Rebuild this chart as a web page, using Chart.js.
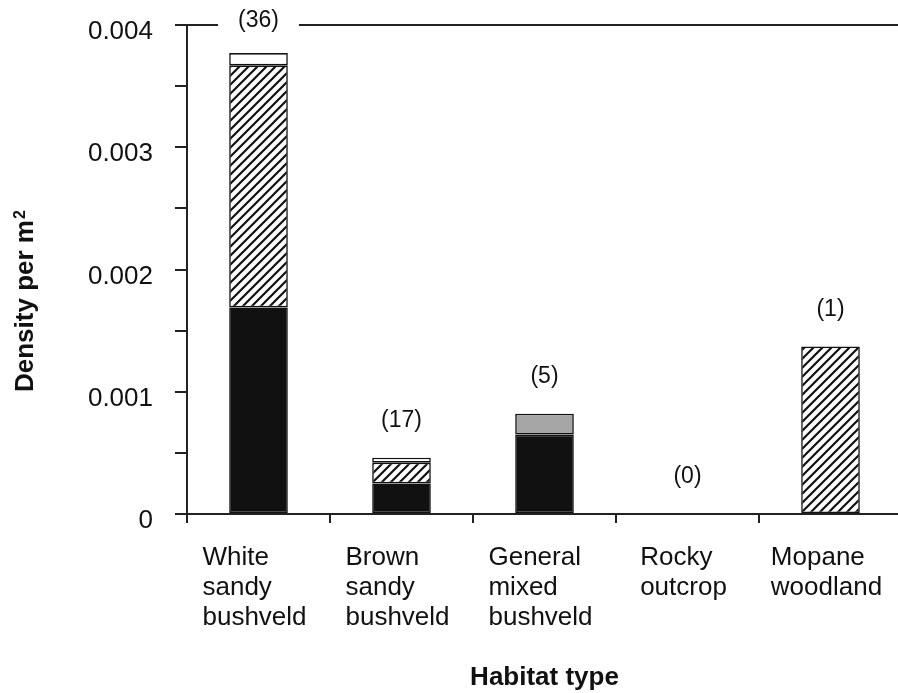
<!DOCTYPE html>
<html>
<head>
<meta charset="utf-8">
<script src="https://cdn.jsdelivr.net/npm/chart.js@4.4.1/dist/chart.umd.min.js"></script>
<style>
  html, body { margin: 0; padding: 0; background: #fff; overflow: hidden; }
  canvas { display: block; }
</style>
</head>
<body>
<canvas id="chart" width="902" height="693"></canvas>
<script>
// habitat categories (one line per array entry, as in the figure)
const habitats = [
  ['White', 'sandy', 'bushveld'],
  ['Brown', 'sandy', 'bushveld'],
  ['General', 'mixed', 'bushveld'],
  ['Rocky', 'outcrop'],
  ['Mopane', 'woodland']
];
const sampleCounts = [36, 17, 5, 0, 1];

// stacked density segments, bottom to top
const solidValues   = [0.00169, 0.00025, 0.00065, 0, 0];
const hatchedValues = [0.00198, 0.00017, 0,       0, 0.00137];
const greyValues    = [0,       0,       0.00017, 0, 0];
const openValues    = [0.00010, 0.00004, 0,       0, 0];

const yTicks = [0, 0.001, 0.002, 0.003, 0.004];
const yTickLabels = ['0', '0.001', '0.002', '0.003', '0.004'];

const FONT = '"Liberation Sans", Arial, sans-serif';
Chart.defaults.font.family = FONT;
Chart.defaults.color = '#111';

const canvas = document.getElementById('chart');
const ctx = canvas.getContext('2d');

function hatchPattern(){
  const c = document.createElement('canvas');
  c.width = 9; c.height = 9;
  const g = c.getContext('2d');
  g.fillStyle = '#fff';
  g.fillRect(0, 0, 9, 9);
  g.strokeStyle = '#111';
  g.lineWidth = 2.2;
  g.beginPath();
  g.moveTo(-1, 10); g.lineTo(10, -1);
  g.moveTo(-1, 1);  g.lineTo(1, -1);
  g.moveTo(8, 10);  g.lineTo(10, 8);
  g.stroke();
  return ctx.createPattern(c, 'repeat');
}

// frame line, sample counts, category labels, y title
const extras = {
  id: 'extras',
  afterDraw(chart){
    const { ctx, chartArea: a, scales: { x, y } } = chart;
    ctx.save();

    ctx.strokeStyle = '#222';
    ctx.lineWidth = 2;
    ctx.beginPath();
    ctx.moveTo(a.left, a.top);
    ctx.lineTo(a.right, a.top);
    ctx.stroke();

    ctx.font = '23px ' + FONT;
    ctx.textAlign = 'center';
    ctx.textBaseline = 'middle';
    sampleCounts.forEach((n, i) => {
      const total = solidValues[i] + hatchedValues[i] + greyValues[i] + openValues[i];
      const cx = x.getPixelForValue(i);
      const cy = Math.max(y.getPixelForValue(total) - 37, a.top - 4);
      const s = '(' + n + ')';
      const w = ctx.measureText(s).width;
      if (Math.abs(cy - a.top) < 16) {
        ctx.fillStyle = '#fff';
        ctx.fillRect(cx - w / 2 - 20, a.top - 3, w + 40, 6);
      }
      ctx.fillStyle = '#111';
      ctx.fillText(s, cx, cy);
    });

    ctx.font = '26px ' + FONT;
    ctx.textAlign = 'left';
    ctx.textBaseline = 'alphabetic';
    habitats.forEach((lines, i) => {
      const cx = x.getPixelForValue(i);
      const w = Math.max(...lines.map(l => ctx.measureText(l).width));
      lines.forEach((l, k) => ctx.fillText(l, cx - w / 2 - 4, a.bottom + 51 + k * 30));
    });

    ctx.translate(33, 392);
    ctx.rotate(-Math.PI / 2);
    ctx.font = 'bold 26px ' + FONT;
    ctx.fillText('Density per m', 0, 0);
    const tw = ctx.measureText('Density per m').width;
    ctx.font = 'bold 16px ' + FONT;
    ctx.fillText('2', tw + 1, -8);

    ctx.restore();
  }
};

new Chart(ctx, {
  type: 'bar',
  data: {
    labels: habitats.map(l => l.join(' ')),
    datasets: [
      { label: 'solid', data: solidValues, backgroundColor: '#111' },
      { label: 'hatched', data: hatchedValues, backgroundColor: hatchPattern() },
      { label: 'grey', data: greyValues, backgroundColor: '#a6a6a6' },
      { label: 'open', data: openValues, backgroundColor: '#fff' }
    ]
  },
  options: {
    responsive: false,
    animation: false,
    layout: { padding: { top: 25, left: 0, right: 0, bottom: 0 } },
    plugins: { legend: { display: false }, tooltip: { enabled: false } },
    datasets: {
      bar: {
        borderColor: '#111', borderWidth: 1.6, borderSkipped: false,
        barPercentage: 0.41, categoryPercentage: 1
      }
    },
    scales: {
      x: {
        stacked: true,
        afterFit(s){ s.height = 179; s.paddingLeft = 0; s.paddingRight = 0; },
        ticks: { display: false },
        grid: { offset: true, drawOnChartArea: false, drawTicks: true, tickLength: 9, color: '#222', lineWidth: 2 },
        border: { color: '#222', width: 2 },
        title: {
          display: true, text: 'Habitat type', color: '#111',
          font: { size: 26, weight: 'bold' }, padding: { top: 0, bottom: 0 }
        }
      },
      y: {
        stacked: true,
        min: 0, max: 0.004,
        afterFit(s){ s.width = 187; s.paddingTop = 0; s.paddingBottom = 0; },
        ticks: {
          stepSize: 0.0005,
          font: { size: 26 }, color: '#111', padding: 22, labelOffset: 7,
          callback(v){
            const i = yTicks.findIndex(t => Math.abs(t - v) < 1e-9);
            return i < 0 ? '' : yTickLabels[i];
          }
        },
        grid: { drawOnChartArea: false, tickLength: 12, color: '#222', lineWidth: 2 },
        border: { color: '#222', width: 2 }
      }
    }
  },
  plugins: [extras]
});
</script>
</body>
</html>
